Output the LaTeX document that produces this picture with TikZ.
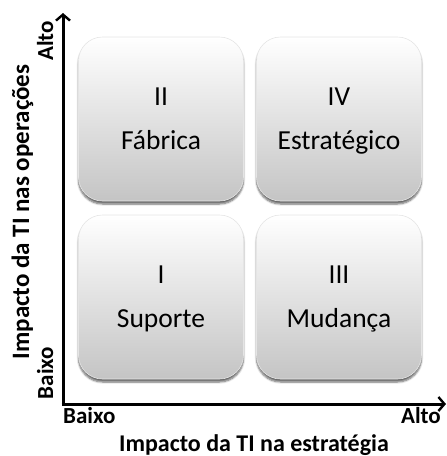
\documentclass[tikz,border=0pt]{standalone}
\usepackage{fontspec}
\setmainfont{Carlito}
\usetikzlibrary{shadows.blur,arrows.meta}
\begin{document}
\begin{tikzpicture}[x=1pt,y=-1pt,
  quad/.style={draw=black!10, line width=0.6pt, rounded corners=24pt,
    top color=white, bottom color=black!23,
    blur shadow={shadow xshift=0pt, shadow yshift=-3pt, shadow blur steps=6, shadow opacity=60},
    minimum width=165pt, minimum height=164pt, inner sep=0pt},
  qtext/.style={font=\fontsize{27.5}{30}\selectfont, text=black, inner sep=0pt, anchor=base},
  axis/.style={line width=3pt, -{Straight Barb[length=6pt,width=14pt,line width=2.4pt]}},
  tick/.style={font=\bfseries\fontsize{23}{25}\selectfont, inner sep=0pt, anchor=base},
  title/.style={font=\bfseries\fontsize{24}{26}\selectfont, inner sep=0pt, anchor=base}]
\useasboundingbox (0,0) rectangle (447,456);
% quadrants
\node[quad] (q2) at (161,119) {};
\node[quad] (q4) at (339,119) {};
\node[quad] (q1) at (161,297) {};
\node[quad] (q3) at (339,297) {};
\node[qtext] (n2) at (161,105) {II};
\node[qtext] (l2) at (161,149) {Fábrica};
\node[qtext] (n4) at (339,105) {IV};
\node[qtext] (l4) at (339,149) {Estratégico};
\node[qtext] (n1) at (161,283) {I};
\node[qtext] (l1) at (161,327) {Suporte};
\node[qtext] (n3) at (339,283) {III};
\node[qtext] (l3) at (339,327) {Mudança};
% axes
\coordinate (oy) at (63,405.5);
\coordinate (ox) at (61.5,404);
\coordinate (yt) at (63,13);
\coordinate (xt) at (446,404);
\draw[axis] (oy) -- (yt);
\draw[axis] (ox) -- (xt);
% labels
\node[tick, anchor=base west] (xb) at (63,423) {Baixo};
\node[tick, anchor=base east] (xa) at (441,423) {Alto};
\node[tick, rotate=90, anchor=base] (ya) at (53,41) {Alto};
\node[tick, rotate=90, anchor=base] (yb) at (53,373) {Baixo};
\node[title] (xt1) at (254,451) {Impacto da TI na estratégia};
\node[title, font=\bfseries\fontsize{25}{27}\selectfont, rotate=90] (yt1) at (29,212) {Impacto da TI nas operações};
\end{tikzpicture}
\end{document}
